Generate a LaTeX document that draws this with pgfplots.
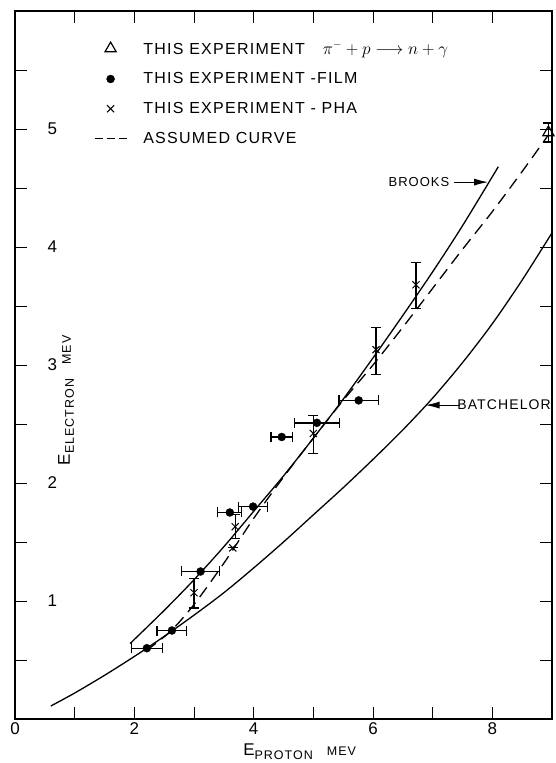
\documentclass[border=0pt]{standalone}
\usepackage{pgfplots}
\pgfplotsset{compat=1.18}
\usepackage{fontspec}
\setmainfont[LetterSpace=8]{Liberation Sans}
\usetikzlibrary{arrows.meta}

\pgfplotstableread{
x y ex
2.21 0.60 0.26
2.63 0.75 0.25
3.11 1.25 0.32
3.60 1.75 0.20
3.99 1.80 0.24
4.47 2.39 0.18
5.06 2.51 0.38
5.76 2.70 0.33
}\film

\pgfplotstableread{
x y ep em
3.00 1.07 0.12 0.13
3.65 1.45 0.00 0.00
3.69 1.63 0.10 0.10
5.00 2.42 0.15 0.17
6.05 3.13 0.19 0.21
6.72 3.68 0.19 0.20
}\pha

\begin{document}
\begin{tikzpicture}[x=1pt,y=1pt]
\useasboundingbox (-15,-44) rectangle (540,719);
\begin{axis}[
  scale only axis, width=537pt, height=708pt,
  xmin=0,xmax=9,ymin=0,ymax=6,
  xtick={0,2,4,6,8}, minor xtick={1,3,5,7},
  ytick={1,2,3,4,5}, minor ytick={0.5,1.5,2.5,3.5,4.5,5.5},
  major tick length=12pt, minor tick length=12pt,
  tick style={black, line width=0.9pt},
  axis line style={line width=1.1pt},
  /pgf/number format/assume math mode=true,
  ticklabel style={font=\fontsize{17}{17}\selectfont},
  yticklabel style={anchor=west, xshift=29pt},
  xlabel={E\raisebox{-3.5pt}{\fontsize{12.5}{12.5}\selectfont PROTON}\hspace{14pt}{\fontsize{12.5}{12.5}\selectfont MEV}},
  xlabel style={at={(axis description cs:0.53,-0.046)}, anchor=center, font=\fontsize{17}{17}\selectfont},
  ylabel={E\raisebox{-4pt}{\fontsize{12.5}{12.5}\selectfont ELECTRON}\hspace{14pt}\raisebox{-1pt}{\fontsize{12.5}{12.5}\selectfont MEV}},
  ylabel style={at={(axis description cs:0.095,0.45)}, anchor=center, font=\fontsize{17}{17}\selectfont},
  clip=false,
  myleg/.style={legend image code/.code={\draw[mark repeat=2,mark phase=2,##1] plot coordinates {(0pt,0pt) (16pt,0pt) (32pt,0pt)};}},
  dashleg/.style={legend image code/.code={\draw[##1, dash pattern=on 8pt off 4pt] (0pt,0pt) -- (32pt,0pt);}},
  legend style={draw=none, fill=none, at={(axis cs:1.32,5.76)}, anchor=north west,
    font=\fontsize{16}{16}\selectfont, row sep=13pt, inner sep=0pt},
  legend cell align=left,
]
% triangle
\addplot[only marks, myleg, mark=triangle, mark size=6.5pt, line width=1.2pt,
  error bars/.cd, y dir=both, y explicit, error mark options={rotate=90, mark size=5pt, line width=1.2pt}, error bar style={line width=1.2pt}]
  coordinates {(8.94,4.97) +- (0,0.08)};
\addlegendentry{\hspace{14pt}THIS EXPERIMENT\hspace{18pt}$\pi^{-}+p\longrightarrow n+\gamma$}
% film
\addplot[only marks, myleg, mark=*, mark size=4pt, black,
  error bars/.cd, x dir=both, x explicit, error mark options={rotate=90, mark size=5pt, line width=1.2pt}, error bar style={line width=1.4pt}]
  table[x=x, y=y, x error=ex] {\film};
\addlegendentry{\hspace{14pt}THIS EXPERIMENT -FILM}
% pha
\addplot[only marks, myleg, mark=x, mark size=5pt, black, line width=1pt,
  error bars/.cd, y dir=both, y explicit, error mark options={rotate=90, mark size=5pt, line width=1.2pt}, error bar style={line width=1.1pt}]
  table[x=x, y=y, y error plus=ep, y error minus=em] {\pha};
\addlegendentry{\hspace{14pt}THIS EXPERIMENT - PHA}
% assumed curve
\addplot[dashleg, black, line width=1.3pt, dash pattern=on 12pt off 7pt, smooth]
  coordinates {(2.2,0.58) (2.6,0.74) (3.0,0.97) (3.5,1.32) (4.0,1.70) (4.5,2.05) (5.0,2.38) (5.5,2.70) (6.0,3.00) (6.5,3.32) (7.0,3.65) (7.5,3.98) (8.0,4.30) (8.5,4.64) (8.94,4.95)};
\addlegendentry{\hspace{14pt}ASSUMED CURVE}
% Brooks
\addplot[black, line width=1.3pt, smooth, forget plot]
  coordinates {(1.93,0.64) (2.5,0.92) (3.0,1.18) (3.5,1.46) (4.0,1.76) (4.5,2.06) (5.0,2.38) (5.5,2.71) (6.0,3.06) (6.5,3.42) (7.0,3.79) (7.5,4.18) (8.1,4.68)};
% Batchelor
\addplot[black, line width=1.3pt, smooth, forget plot]
  coordinates {(0.6,0.11) (1.0,0.22) (1.5,0.37) (2.0,0.53) (2.5,0.70) (3.0,0.88) (3.5,1.07) (4.0,1.28) (4.5,1.50) (5.0,1.73) (5.5,1.96) (6.0,2.20) (6.5,2.45) (7.0,2.72) (7.5,3.02) (8.0,3.35) (8.5,3.72) (9.0,4.12)};
\node[anchor=east, inner sep=1pt, font=\fontsize{13}{13}\selectfont] at (axis cs:7.3,4.55) {BROOKS};
\draw[line width=1.1pt, -{Latex[length=14pt,width=7pt]}] (axis cs:7.36,4.55) -- (axis cs:7.93,4.55);
\node[anchor=east, inner sep=1pt, font=\fontsize{14}{14}\selectfont] at (axis cs:9.0,2.66) {BATCHELOR};
\draw[line width=1.1pt, -{Latex[length=14pt,width=7pt]}] (axis cs:7.45,2.66) -- (axis cs:6.88,2.66);
\end{axis}
\end{tikzpicture}
\end{document}
